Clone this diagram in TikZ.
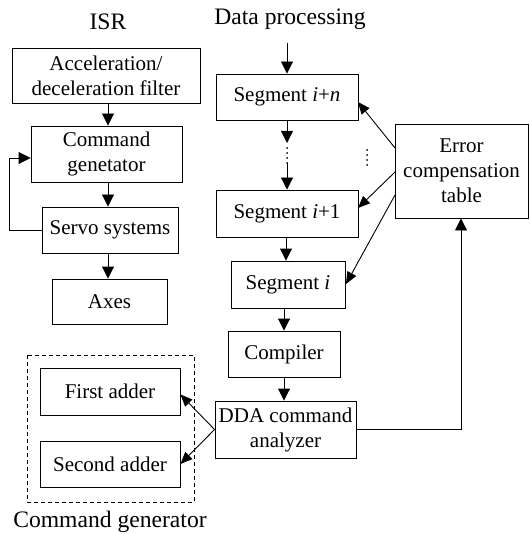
\documentclass[tikz,border=0pt]{standalone}
\usepackage{fontspec}
\setmainfont{Liberation Serif}
\usetikzlibrary{arrows.meta}
\begin{document}
\begin{tikzpicture}[x=1pt,y=-1pt,
  box/.style={draw,line width=0.9pt,inner sep=0pt,align=center,font=\fontsize{21}{25}\selectfont},
  title/.style={inner sep=0pt,font=\fontsize{23.6}{28}\selectfont},
  arr/.style={line width=0.9pt,-{Triangle[length=12pt,width=12pt]}},
  tarr/.style={line width=0.9pt,-{Triangle[length=12pt,width=10pt]}},
  dots/.style={line width=2pt,line cap=round,dash pattern=on 0pt off 5pt}]
\useasboundingbox (0,0) rectangle (529,534);
% titles
\node[title] (isr) at (108,22) {ISR};
\node[title] (dp) at (290,19) {Data processing};
\node[title] (cgl) at (110,522) {Command generator};
% ISR column
\node[box,minimum width=188pt,minimum height=55pt] (acc) at (106,75.5) {Acceleration/\\deceleration filter};
\node[box,minimum width=151pt,minimum height=56pt] (cmd) at (106.5,154) {Command\\genetator};
\node[box,minimum width=136pt,minimum height=46pt] (servo) at (110,230) {Servo systems};
\node[box,minimum width=115pt,minimum height=45pt] (axes) at (109.5,301.5) {Axes};
\draw[arr] (acc.south -| 108,0) -- (cmd.north -| 108,0);
\draw[arr] (cmd.south -| 108,0) -- (servo.north -| 108,0);
\draw[arr] (servo.south -| 108,0) -- (axes.north -| 108,0);
\coordinate (fbk) at (9,230);
\draw[arr] (servo.west) -- (fbk) |- ([yshift=-4pt]cmd.west);
% data processing column
\node[box,minimum width=142pt,minimum height=46pt] (segn) at (287,97) {Segment \textit{i}+\textit{n}};
\node[box,minimum width=142pt,minimum height=47pt] (seg1) at (287,213.5) {Segment \textit{i}+1};
\node[box,minimum width=114pt,minimum height=47pt] (segi) at (288,284.5) {Segment \textit{i}};
\node[box,minimum width=112pt,minimum height=46pt] (comp) at (284,354) {Compiler};
\node[box,minimum width=141pt,minimum height=57pt] (dda) at (285.5,429.5) {DDA command\\analyzer};
\node[box,minimum width=133pt,minimum height=94pt] (err) at (461.5,171) {Error\\compensation\\table};
\coordinate (din) at (287,43);
\draw[arr] (din) -- (segn.north);
\coordinate (d1) at (287,143);
\coordinate (d2) at (287,148);
\coordinate (d3) at (287,163);
\draw[arr] (segn.south) -- (d1);
\draw[dots] (d2) -- (d3);
\draw[arr] (d3) -- (seg1.north);
\draw[arr] (seg1.south -| 286,0) -- (segi.north -| 286,0);
\draw[arr] (segi.south -| 284,0) -- (comp.north -| 284,0);
\draw[arr] (comp.south -| 284,0) -- (dda.north -| 284,0);
\coordinate (r1) at (367,150);
\coordinate (r2) at (367,165);
\draw[dots] (r1) -- (r2);
% error table arrows
\draw[tarr] (395,148) -- (358,102);
\draw[tarr] (395,172) -- (358,208);
\draw[tarr] (395,195) -- (346,284);
\draw[arr] (dda.east) -| (err.south -| 461,0);
% command generator group
\draw[line width=0.9pt,dash pattern=on 4pt off 3pt] (27,355) rectangle (194,502);
\node[box,minimum width=140pt,minimum height=47pt] (fa) at (110,391.5) {First adder};
\node[box,minimum width=140pt,minimum height=46pt] (sa) at (110,464) {Second adder};
\draw[tarr] (dda.west) -- ([yshift=-3pt]fa.east);
\draw[tarr] (dda.west) -- (sa.east);
\end{tikzpicture}
\end{document}
